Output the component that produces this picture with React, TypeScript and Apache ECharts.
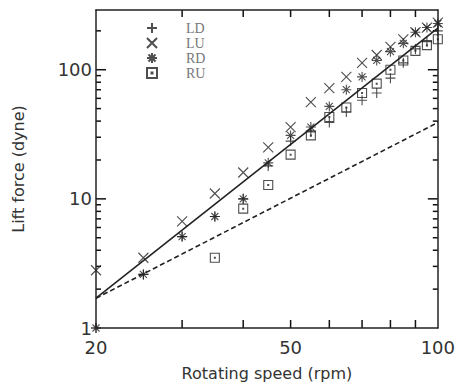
import React, { useEffect, useRef } from "react";
import * as echarts from "echarts";

const speeds = [20, 25, 30, 35, 40, 45, 50, 55, 60, 65, 70, 75, 80, 85, 90, 95, 100];
const liftLD = [1, 2.6, 5.1, 7.3, 10, 18, 28, 33, 39, 47, 58, 66, 86, 113, 145, 165, 200];
const liftLU = [2.8, 3.5, 6.7, 11, 16, 25, 36, 56, 72, 88, 113, 130, 150, 172, 195, 212, 232];
const liftRD = [1, 2.6, 5.1, 7.3, 10, 19, 31, 36, 52, 70, 88, 118, 138, 160, 195, 212, 228];
const liftRU = [null, null, null, 3.5, 8.4, 12.8, 22, 31, 43, 51, 66, 78, 100, 118, 140, 155, 172];

const fitX = [20, 100];
const fitSolidY = [1.7, 210];
const fitDashedY = [1.7, 39];

const xTickLabels = [20, 50, 100];
const xTicks = [30, 40, 50, 60, 70, 80, 90];
const yTickLabels = [1, 10, 100];
const yMajorTicks = [10, 100];
const yMinorTicks = [2, 3, 4, 5, 6, 7, 8, 9, 20, 30, 40, 50, 60, 70, 80, 90, 200];

const X_MIN = 20;
const X_MAX = 100;
const Y_MIN = 1;
const Y_MAX = 290;

const seriesNames = ["LD", "LU", "RD", "RU"];
const seriesValues = [liftLD, liftLU, liftRD, liftRU];
const symbols = [
  "path://M5,0V10M0,5H10",
  "path://M0,0L10,10M10,0L0,10",
  "path://M5,0V10M0,5H10M1.5,1.5L8.5,8.5M8.5,1.5L1.5,8.5",
  "path://M0,0H10V10H0ZM4.5,4.5H5.5V5.5H4.5Z",
];

const FONT = "DejaVu Sans";
const INK = "#222";

export default function App() {
  const ref = useRef<HTMLDivElement>(null);
  useEffect(() => {
    if (!ref.current) return;
    const chart = echarts.init(ref.current, undefined, { renderer: "svg" });
    const axisLine = { show: true, lineStyle: { color: INK, width: 1.5 } };
    const baseX = {
      type: "log" as const,
      logBase: 10,
      min: X_MIN,
      max: X_MAX,
      splitLine: { show: false },
      axisTick: { show: false },
      axisLine,
    };
    const baseY = {
      type: "log" as const,
      logBase: 10,
      min: Y_MIN,
      max: Y_MAX,
      splitLine: { show: false },
      axisTick: { show: false },
      axisLine,
    };
    const scatter = seriesNames.map((name, k) => ({
      name,
      type: "scatter",
      xAxisIndex: 0,
      yAxisIndex: 0,
      symbol: symbols[k],
      symbolSize: k === 3 ? 9 : 10,
      itemStyle: { color: "transparent", borderColor: INK, borderWidth: 1.1 },
      data: speeds
        .map((x, i) => [x, seriesValues[k][i]])
        .filter((p) => p[1] !== null),
      z: 3,
    }));
    chart.setOption({
      animation: false,
      backgroundColor: "#fff",
      grid: { left: 96, right: 14, top: 10, bottom: 58 },
      legend: {
        data: seriesNames,
        orient: "vertical",
        left: 141,
        top: 16,
        itemWidth: 10,
        itemHeight: 10,
        itemGap: 1,
        formatter: (n: string) => "{g| }" + n,
        textStyle: {
          fontFamily: "Liberation Serif",
          fontSize: 14,
          color: "#777",
          lineHeight: 10,
          rich: { g: { width: 24, lineHeight: 10 } },
        },
      },
      xAxis: [
        {
          ...baseX,
          position: "bottom",
          axisLabel: { show: true, customValues: xTickLabels, fontSize: 18, fontFamily: FONT, color: "#333", margin: 10 },
          name: "Rotating speed (rpm)",
          nameLocation: "middle",
          nameGap: 37,
          nameTextStyle: { fontSize: 16, fontFamily: FONT, color: "#333" },
        },
        { ...baseX, position: "top", axisLabel: { show: false } },
      ],
      yAxis: [
        {
          ...baseY,
          position: "left",
          axisLabel: { show: true, customValues: yTickLabels, fontSize: 18, fontFamily: FONT, color: "#333", margin: 4 },
          name: "Lift force (dyne)",
          nameLocation: "middle",
          nameGap: 70,
          nameTextStyle: { fontSize: 16, fontFamily: FONT, color: "#333" },
        },
        { ...baseY, position: "right", axisLabel: { show: false } },
      ],
      series: [
        {
          name: "fit3",
          type: "line",
          xAxisIndex: 0,
          yAxisIndex: 0,
          showSymbol: false,
          data: fitX.map((x, i) => [x, fitSolidY[i]]),
          lineStyle: { color: INK, width: 1.6, type: "solid" },
          z: 2,
        },
        {
          name: "fit2",
          type: "line",
          xAxisIndex: 0,
          yAxisIndex: 0,
          showSymbol: false,
          data: fitX.map((x, i) => [x, fitDashedY[i]]),
          lineStyle: { color: INK, width: 1.6, type: [5, 3] },
          z: 2,
        },
        ...scatter,
      ],
    });

    // Tick marks placed through the axes' own scales
    const px = (v: number) => chart.convertToPixel({ xAxisIndex: 0 }, v) as number;
    const py = (v: number) => chart.convertToPixel({ yAxisIndex: 0 }, v) as number;
    const left = px(X_MIN);
    const right = px(X_MAX);
    const bottom = py(Y_MIN);
    const top = py(Y_MAX);
    const g: any[] = [];
    const seg = (x1: number, y1: number, x2: number, y2: number) => ({
      type: "line",
      shape: { x1, y1, x2, y2 },
      style: { stroke: "#111", lineWidth: 1.5 },
    });
    xTicks.forEach((v) => {
      const x = px(v);
      g.push(seg(x, bottom, x, bottom - 8));
      g.push(seg(x, top, x, top + 7));
    });
    const addY = (v: number, len: number) => {
      const y = py(v);
      g.push(seg(left, y, left + len, y));
      g.push(seg(right, y, right - len, y));
    };
    yMajorTicks.forEach((v) => addY(v, 10));
    yMinorTicks.forEach((v) => addY(v, 5));
    chart.setOption({ graphic: { elements: g } });

    return () => chart.dispose();
  }, []);
  return (
    <div style={{ position: "absolute", left: 0, top: 0 }}>
      <div ref={ref} style={{ width: 458, height: 386 }} />
    </div>
  );
}
